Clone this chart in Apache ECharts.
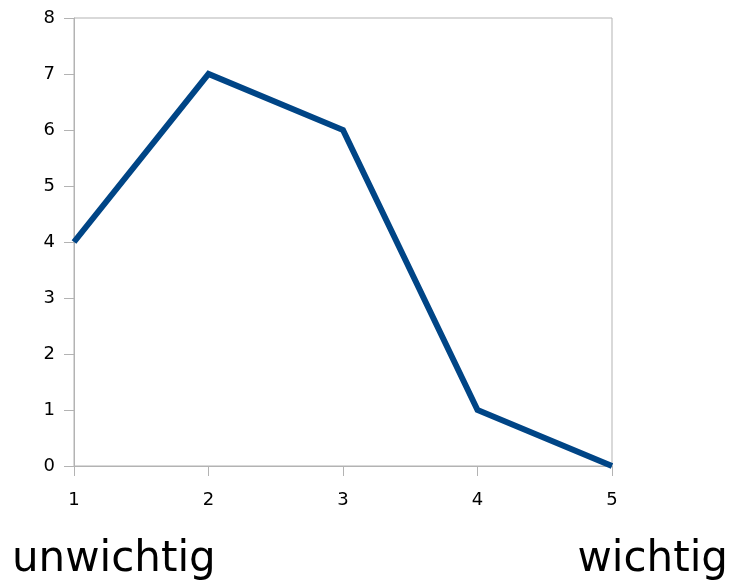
<!DOCTYPE html>
<html>
<head>
<meta charset="utf-8">
<script src="https://cdn.jsdelivr.net/npm/echarts@6/dist/echarts.min.js"></script>
<style>html,body{margin:0;padding:0;background:#fff;}#c{width:732px;height:580px;}</style>
</head>
<body>
<div id="c"></div>
<script>
var xValues = [1, 2, 3, 4, 5];
var yValues = [4, 7, 6, 1, 0];
var leftLabel = 'unwichtig';
var rightLabel = 'wichtig';

var chart = echarts.init(document.getElementById('c'), null, {renderer: 'canvas'});
var font = 'DejaVu Sans';
chart.setOption({
  animation: false,
  backgroundColor: '#ffffff',
  grid: {left: 74, right: 120, top: 18, bottom: 114, show: true, borderColor: '#b3b3b3', borderWidth: 1},
  xAxis: {
    type: 'value', min: 1, max: 5, interval: 1,
    axisLine: {show: true, onZero: false, lineStyle: {color: '#b3b3b3', width: 1}},
    axisTick: {show: true, length: 10, lineStyle: {color: '#b3b3b3'}},
    axisLabel: {color: '#000', fontFamily: font, fontSize: 18, margin: 25},
    splitLine: {show: false}
  },
  yAxis: {
    type: 'value', min: 0, max: 8, interval: 1,
    axisLine: {show: true, lineStyle: {color: '#b3b3b3', width: 1}},
    axisTick: {show: true, length: 10, lineStyle: {color: '#b3b3b3'}},
    axisLabel: {color: '#000', fontFamily: font, fontSize: 18, margin: 19},
    splitLine: {show: false}
  },
  series: [{
    type: 'line',
    data: xValues.map(function (x, i) { return [x, yValues[i]]; }),
    showSymbol: false,
    symbol: 'none',
    lineStyle: {color: '#004586', width: 6, cap: 'butt', join: 'miter'}
  }],
  graphic: [
    {type: 'text', left: 12, top: 539, style: {text: leftLabel, font: '42px "DejaVu Sans"', fill: '#000'}},
    {type: 'text', right: 4, top: 539, style: {text: rightLabel, font: '42px "DejaVu Sans"', fill: '#000'}}
  ]
});
</script>
</body>
</html>
